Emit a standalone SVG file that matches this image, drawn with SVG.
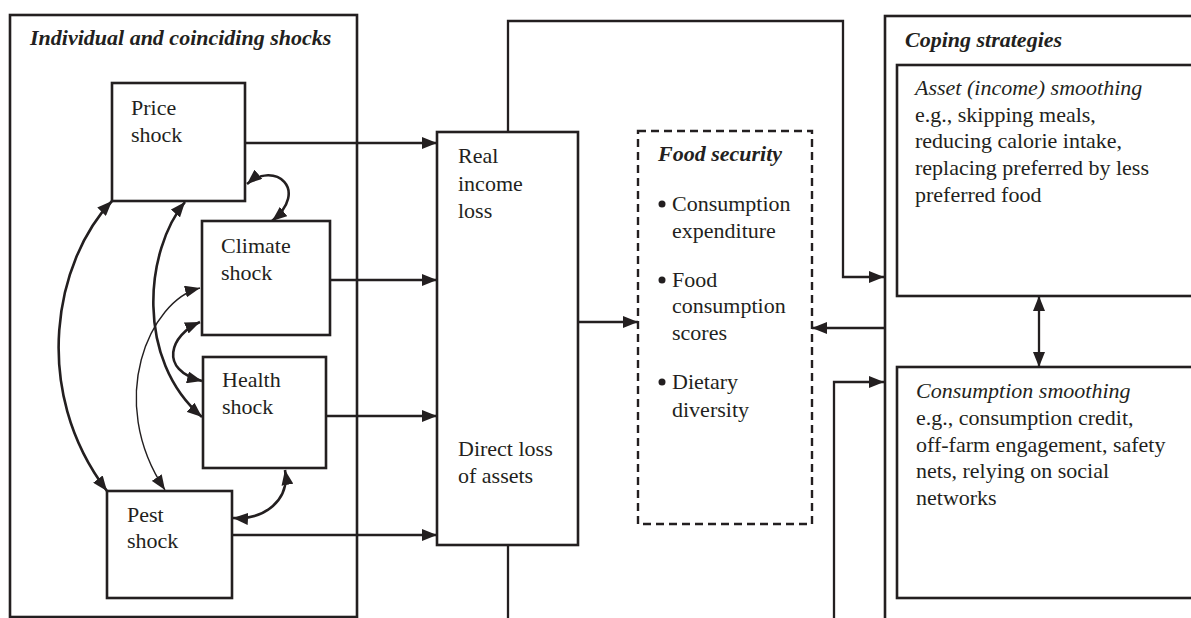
<svg xmlns="http://www.w3.org/2000/svg" width="1191" height="618" viewBox="0 0 1191 618">
<defs>
<marker id="ah" markerUnits="userSpaceOnUse" markerWidth="15" markerHeight="12" refX="15" refY="6" orient="auto-start-reverse" viewBox="0 0 15 12">
<path d="M0,0 L15,6 L0,12 z" fill="#231f20"/>
</marker>
<style>
.box{fill:none;stroke:#231f20;stroke-width:2.6}
.dash{fill:none;stroke:#231f20;stroke-width:2.4;stroke-dasharray:8 5}
.t{font-family:"Liberation Serif","Times New Roman",serif;font-size:22px;fill:#231f20}
.bi{font-weight:bold;font-style:italic}
.i{font-style:italic}
.c{fill:none;stroke:#231f20;stroke-width:2.3}
.ck{fill:none;stroke:#231f20;stroke-width:2.6}
.cn{fill:none;stroke:#231f20;stroke-width:1.4}
</style>
</defs>
<rect width="1191" height="618" fill="#ffffff"/>

<g id="shocks-panel">
<rect class="box" x="10" y="15" width="347" height="602"/>
<text class="t bi" x="30" y="45">Individual and coinciding shocks</text>
</g>

<g id="price-shock">
<rect class="box" x="112" y="83" width="133" height="118"/>
<text class="t" x="131" y="115">Price</text>
<text class="t" x="131" y="142">shock</text>
</g>

<g id="climate-shock">
<rect class="box" x="202" y="221" width="128" height="114"/>
<text class="t" x="221" y="253">Climate</text>
<text class="t" x="221" y="280">shock</text>
</g>

<g id="health-shock">
<rect class="box" x="203" y="357" width="123" height="111"/>
<text class="t" x="222" y="387">Health</text>
<text class="t" x="222" y="414">shock</text>
</g>

<g id="pest-shock">
<rect class="box" x="107" y="491" width="125" height="107"/>
<text class="t" x="127" y="522">Pest</text>
<text class="t" x="127" y="548">shock</text>
</g>

<g id="losses">
<rect class="box" x="437" y="132" width="141" height="413"/>
<text class="t" x="458" y="163">Real</text>
<text class="t" x="458" y="191">income</text>
<text class="t" x="458" y="218">loss</text>
<text class="t" x="458" y="456">Direct loss</text>
<text class="t" x="458" y="483">of assets</text>
</g>

<g id="food-security">
<rect class="dash" x="638" y="131" width="174" height="393"/>
<text class="t bi" x="658" y="161">Food security</text>
<circle cx="662" cy="204" r="3.5" fill="#231f20"/>
<text class="t" x="672" y="211">Consumption</text>
<text class="t" x="672" y="238">expenditure</text>
<circle cx="662" cy="280" r="3.5" fill="#231f20"/>
<text class="t" x="672" y="287">Food</text>
<text class="t" x="672" y="313">consumption</text>
<text class="t" x="672" y="340">scores</text>
<circle cx="662" cy="382" r="3.5" fill="#231f20"/>
<text class="t" x="672" y="389">Dietary</text>
<text class="t" x="672" y="417">diversity</text>
</g>

<g id="coping-panel">
<rect class="box" x="885" y="16" width="320" height="620"/>
<text class="t bi" x="905" y="47">Coping strategies</text>
</g>

<g id="asset-smoothing">
<rect class="box" x="897" y="65" width="310" height="231"/>
<text class="t i" x="915" y="95">Asset (income) smoothing</text>
<text class="t" x="915" y="122">e.g., skipping meals,</text>
<text class="t" x="915" y="148">reducing calorie intake,</text>
<text class="t" x="915" y="175">replacing preferred by less</text>
<text class="t" x="915" y="202">preferred food</text>
</g>

<g id="consumption-smoothing">
<rect class="box" x="897" y="367" width="310" height="231"/>
<text class="t i" x="916" y="398">Consumption smoothing</text>
<text class="t" x="916" y="425">e.g., consumption credit,</text>
<text class="t" x="916" y="452">off-farm engagement, safety</text>
<text class="t" x="916" y="478">nets, relying on social</text>
<text class="t" x="916" y="505">networks</text>
</g>

<g id="connectors">
<path class="c" d="M245,143 H437" marker-end="url(#ah)"/>
<path class="c" d="M330,280 H437" marker-end="url(#ah)"/>
<path class="c" d="M326,416 H437" marker-end="url(#ah)"/>
<path class="c" d="M232,535 H437" marker-end="url(#ah)"/>
<path class="c" d="M508,132 V21 H843 V277 H884" marker-end="url(#ah)"/>
<path class="c" d="M508,545 V618"/>
<path class="c" d="M578,322 H638" marker-end="url(#ah)"/>
<path class="c" d="M884,328 H812" marker-end="url(#ah)"/>
<path class="c" d="M834,618 V382 H884" marker-end="url(#ah)"/>
<path class="c" d="M1039,296 V367" marker-start="url(#ah)" marker-end="url(#ah)"/>
<path class="ck" d="M112,201 C55,260 30,390 107,491" marker-start="url(#ah)" marker-end="url(#ah)"/>
<path class="ck" d="M185,202 C145,250 135,360 202,417" marker-start="url(#ah)" marker-end="url(#ah)"/>
<path class="cn" d="M200,288 C150,300 105,400 165,490" marker-start="url(#ah)" marker-end="url(#ah)"/>
<path class="ck" d="M200,322 C170,335 158,370 202,381" marker-start="url(#ah)" marker-end="url(#ah)"/>
<path class="ck" d="M247,184 C275,160 310,190 272,221" marker-start="url(#ah)" marker-end="url(#ah)"/>
<path class="ck" d="M285,470 C290,500 265,520 233,518" marker-start="url(#ah)" marker-end="url(#ah)"/>
</g>
</svg>
